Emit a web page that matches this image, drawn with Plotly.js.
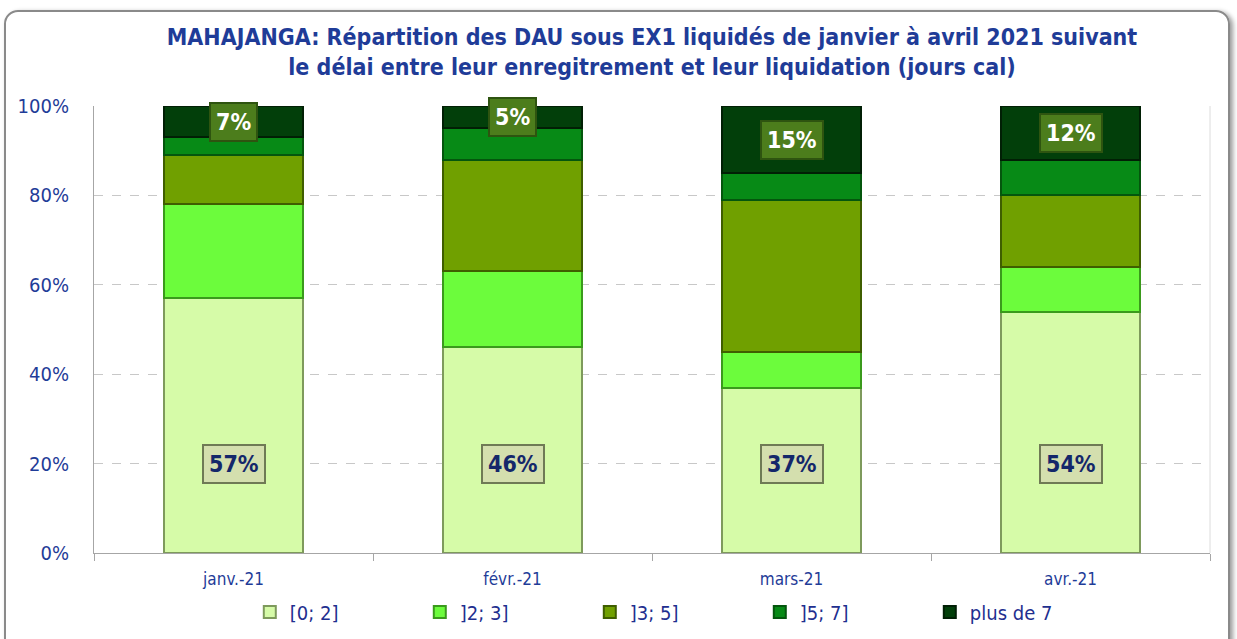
<!DOCTYPE html>
<html>
<head>
<meta charset="utf-8">
<script src="https://cdn.plot.ly/plotly-3.0.1.min.js"></script>
<style>
  html, body { margin: 0; padding: 0; background: #ffffff; }
  #chart { width: 1237px; height: 639px; position: absolute; left: 0; top: 0; }
  #frame { position: absolute; left: 4px; top: 10px; width: 1222px; height: 650px;
           border: 2px solid #8a8a8a; border-radius: 14px; box-shadow: 3px 2px 5px #9a9a9a;
           pointer-events: none; z-index: 5; }
</style>
</head>
<body>
<div id="chart"></div>
<div id="frame"></div>
<script>
const months = ['janv.-21', 'févr.-21', 'mars-21', 'avr.-21'];
const seriesNames = ['[0; 2]', ']2; 3]', ']3; 5]', ']5; 7]', 'plus de 7'];
const s0_2 = [57, 46, 37, 54];
const s2_3 = [21, 17, 8, 10];
const s3_5 = [11, 25, 34, 16];
const s5_7 = [4, 7, 6, 8];
const sPlus7 = [7, 5, 15, 12];

const seriesValues = [s0_2, s2_3, s3_5, s5_7, sPlus7];
const fills = ['#d6fba8', '#6cfc3c', '#70a000', '#078a16', '#023f0a'];
const edges = ['#7e9a5c', '#3a9a1c', '#3f5e00', '#04560d', '#011f05'];

const FONT = '"DejaVu Sans Condensed", "Liberation Sans Narrow", "Open Sans", sans-serif';
const BLUE = '#1f3c98';

const traces = seriesValues.map((vals, i) => ({
  type: 'bar',
  name: seriesNames[i],
  x: months,
  y: vals,
  width: 0.5,
  marker: { color: fills[i], line: { color: edges[i], width: 2 } },
  hoverinfo: 'x+y+name'
}));

const annotations = [];
months.forEach((m, j) => {
  annotations.push({
    x: m, y: 20, xref: 'x', yref: 'y',
    text: '<b>' + s0_2[j] + '%</b>', showarrow: false,
    font: { family: FONT, size: 23, color: '#14276a' },
    bgcolor: '#d4dfae', bordercolor: '#6f7a55', borderwidth: 2, borderpad: 5
  });
  const base = 100 - sPlus7[j];
  annotations.push({
    x: m, y: base + sPlus7[j] / 2, xref: 'x', yref: 'y',
    text: '<b>' + sPlus7[j] + '%</b>', showarrow: false,
    font: { family: FONT, size: 23, color: '#ffffff' },
    bgcolor: '#4c7d1c', bordercolor: '#2e5410', borderwidth: 2, borderpad: 5
  });
});

const layout = {
  width: 1237, height: 639,
  paper_bgcolor: 'rgba(0,0,0,0)',
  plot_bgcolor: '#ffffff',
  margin: { l: 94, r: 27, t: 106, b: 86, autoexpand: false },
  barmode: 'stack',
  title: {
    text: '<b>MAHAJANGA: Répartition des DAU sous EX1 liquidés de janvier à avril 2021 suivant<br>le délai entre leur enregitrement et leur liquidation (jours cal)</b>',
    font: { family: FONT, size: 23, color: BLUE },
    x: 0.5, xref: 'paper', xanchor: 'center',
    y: 0.93, yref: 'container', yanchor: 'top'
  },
  xaxis: {
    type: 'category',
    tickfont: { family: FONT, size: 17, color: BLUE },
    showline: true, linecolor: '#a6a6a6', linewidth: 1,
    ticks: 'outside', tickson: 'boundaries', ticklen: 7, tickcolor: '#a6a6a6',
    showgrid: false,
    ticklabelstandoff: 11
  },
  yaxis: {
    range: [0, 100],
    dtick: 20,
    ticksuffix: '%',
    tickfont: { family: FONT, size: 20, color: BLUE },
    showgrid: true, gridcolor: '#c8c8c8', griddash: 'dash', gridwidth: 1,
    showline: true, linecolor: '#a6a6a6', linewidth: 1,
    zeroline: false,
    ticks: '', ticklabelstandoff: 20
  },
  legend: {
    orientation: 'h',
    x: 0.1396, xanchor: 'left',
    y: -0.132, yanchor: 'middle',
    font: { family: FONT, size: 20, color: '#1f2f8f' },
    entrywidth: 125, entrywidthmode: 'pixels',
    itemwidth: 30,
    traceorder: 'normal',
    bgcolor: 'rgba(0,0,0,0)'
  },
  annotations: annotations,
  shapes: [
    { type: 'line', xref: 'paper', yref: 'paper', x0: 1, x1: 1, y0: 0, y1: 1,
      line: { color: '#dcdcdc', width: 1 } }
  ],
  showlegend: true
};

Plotly.newPlot('chart', traces, layout, { displayModeBar: false, staticPlot: true });
</script>
</body>
</html>
